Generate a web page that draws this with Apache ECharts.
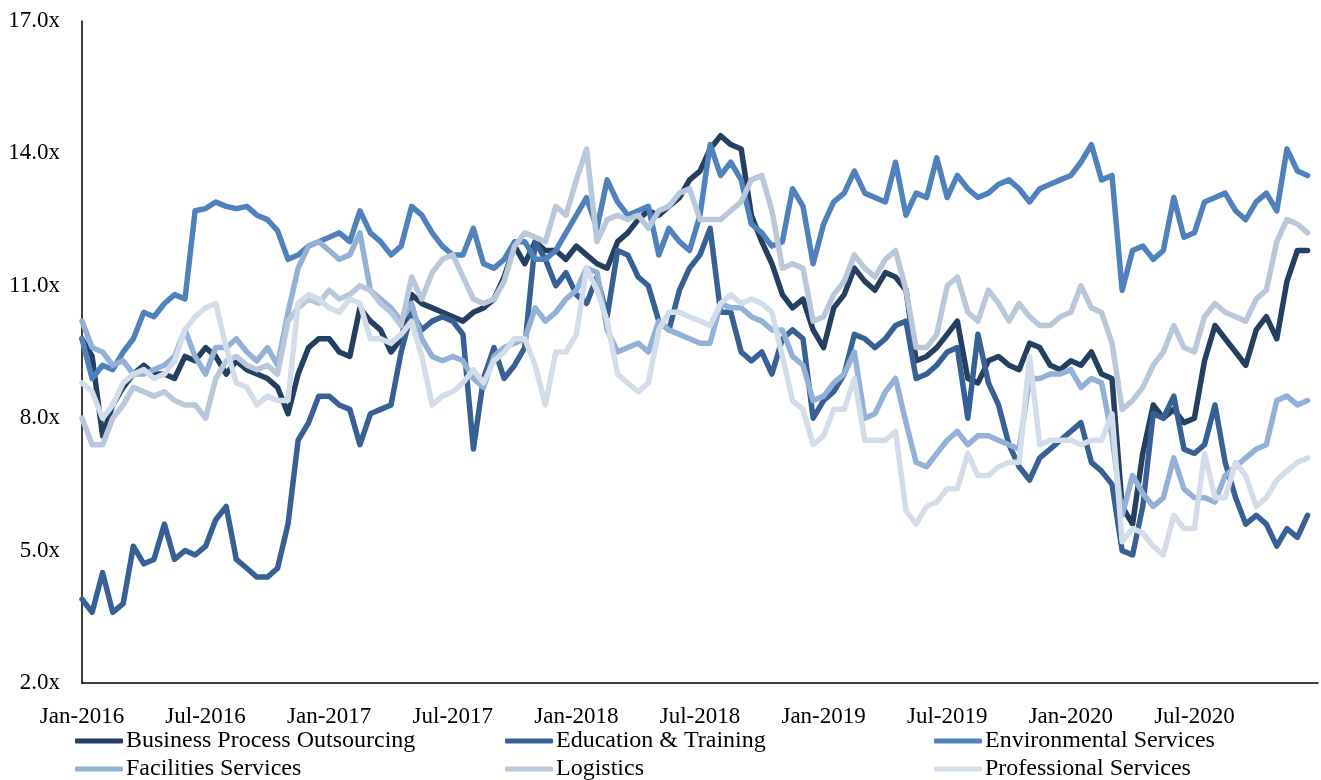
<!DOCTYPE html>
<html>
<head>
<meta charset="utf-8">
<script src="https://cdn.jsdelivr.net/npm/echarts@6/dist/echarts.min.js"></script>
<style>
  html, body { margin: 0; padding: 0; background: #fff; }
  #chart-container { width: 1321px; height: 780px; }
</style>
</head>
<body>
<div id="chart-container"></div>
<script>
// sample dates: 1st and 16th of every month, Jan-2016 .. Dec-2020
let dates = [];
for (let y = 2016; y <= 2020; y++) {
  for (let m = 1; m <= 12; m++) {
    let mm = m < 10 ? "0" + m : "" + m;
    dates.push(y + "-" + mm + "-01");
    dates.push(y + "-" + mm + "-16");
  }
}

const tickLabels = ["Jan-2016", "Jul-2016", "Jan-2017", "Jul-2017", "Jan-2018",
  "Jul-2018", "Jan-2019", "Jul-2019", "Jan-2020", "Jul-2020"];

const seriesNames = ["Business Process Outsourcing", "Education & Training",
  "Environmental Services", "Facilities Services", "Logistics", "Professional Services"];

const colors = ["#243f60", "#376195", "#4f81bd", "#93b1d6", "#b8c7d9", "#d2dde9"];

const bpo = [
  9.8, 9.4, 7.6, 8.3, 8.7, 9.0, 9.2, 9.0, 9.0, 8.9, 9.4, 9.3, 9.6, 9.4, 9.0, 9.3, 9.1, 9.0, 8.9, 8.7, 8.1, 9.0, 9.6, 9.8,
  9.8, 9.5, 9.4, 10.5, 10.2, 10.0, 9.5, 9.8, 10.8, 10.6, 10.5, 10.4, 10.3, 10.2, 10.4, 10.5, 10.7, 11.2, 11.9, 11.5, 12.0, 11.8, 11.8, 11.6,
  11.9, 11.7, 11.5, 11.4, 12.0, 12.2, 12.5, 12.7, 12.6, 12.8, 13.0, 13.4, 13.6, 14.1, 14.4, 14.2, 14.1, 12.6, 12.0, 11.5, 10.8, 10.5, 10.7, 10.0,
  9.6, 10.5, 10.8, 11.4, 11.1, 10.9, 11.3, 11.2, 10.9, 9.3, 9.4, 9.6, 9.9, 10.2, 8.9, 8.8, 9.3, 9.4, 9.2, 9.1, 9.7, 9.6, 9.2, 9.1,
  9.3, 9.2, 9.5, 9.0, 8.9, 6.0, 5.6, 7.2, 8.3, 8.0, 8.2, 7.9, 8.0, 9.3, 10.1, 9.8, 9.5, 9.2, 10.0, 10.3, 9.8, 11.1, 11.8, 11.8
];

const education = [
  3.9, 3.6, 4.5, 3.6, 3.8, 5.1, 4.7, 4.8, 5.6, 4.8, 5.0, 4.9, 5.1, 5.7, 6.0, 4.8, 4.6, 4.4, 4.4, 4.6, 5.6, 7.5, 7.9, 8.5,
  8.5, 8.3, 8.2, 7.4, 8.1, 8.2, 8.3, 9.5, 10.4, 10.0, 10.2, 10.3, 10.2, 9.9, 7.3, 8.9, 9.6, 8.9, 9.2, 9.6, 12.0, 11.6, 11.0, 11.3,
  10.8, 10.6, 11.2, 10.3, 11.8, 11.7, 11.2, 11.0, 10.2, 10.0, 10.9, 11.4, 11.7, 12.3, 10.4, 10.4, 9.5, 9.3, 9.5, 9.0, 9.8, 10.0, 9.8, 8.0,
  8.4, 8.6, 9.0, 9.9, 9.8, 9.6, 9.8, 10.1, 10.2, 8.9, 9.0, 9.2, 9.5, 9.6, 8.0, 9.9, 8.8, 8.3, 7.4, 6.9, 6.6, 7.1, 7.3, 7.5,
  7.7, 7.9, 7.0, 6.8, 6.5, 5.0, 4.9, 6.0, 8.1, 8.0, 8.5, 7.3, 7.2, 7.4, 8.3, 7.0, 6.2, 5.6, 5.8, 5.6, 5.1, 5.5, 5.3, 5.8
];

const environmental = [
  9.8, 8.9, 9.2, 9.1, 9.5, 9.8, 10.4, 10.3, 10.6, 10.8, 10.7, 12.7, 12.75, 12.9, 12.8, 12.75, 12.8, 12.6, 12.5, 12.25, 11.6, 11.7, 11.9, 12.0,
  12.1, 12.2, 12.0, 12.7, 12.2, 12.0, 11.7, 11.9, 12.8, 12.6, 12.2, 11.9, 11.7, 11.7, 12.3, 11.5, 11.4, 11.6, 12.0, 12.0, 11.6, 11.6, 11.8, 12.2,
  12.6, 13.0, 12.3, 13.4, 12.9, 12.6, 12.7, 12.8, 11.7, 12.3, 12.0, 11.8, 12.6, 14.2, 13.5, 13.8, 13.4, 12.4, 12.2, 11.9, 12.0, 13.2, 12.8, 11.5,
  12.4, 12.9, 13.1, 13.6, 13.1, 13.0, 12.9, 13.8, 12.6, 13.1, 13.0, 13.9, 13.0, 13.5, 13.2, 13.0, 13.1, 13.3, 13.4, 13.2, 12.9, 13.2, 13.3, 13.4,
  13.5, 13.8, 14.2, 13.4, 13.5, 10.9, 11.8, 11.9, 11.6, 11.8, 13.0, 12.1, 12.2, 12.9, 13.0, 13.1, 12.7, 12.5, 12.9, 13.1, 12.7, 14.1, 13.6, 13.5
];

const facilities = [
  10.2, 9.6, 9.5, 9.2, 9.3, 9.0, 9.0, 9.1, 9.2, 9.4, 10.0, 9.4, 9.0, 9.6, 9.6, 9.8, 9.5, 9.3, 9.6, 9.2, 10.4, 11.4, 11.9, 12.0,
  11.8, 11.6, 11.7, 12.2, 10.9, 10.7, 10.5, 10.2, 10.6, 9.8, 9.4, 9.3, 9.4, 9.3, 8.9, 8.7, 9.4, 9.6, 9.7, 9.8, 10.5, 10.2, 10.4, 10.7,
  10.9, 11.4, 11.3, 10.0, 9.5, 9.6, 9.7, 9.5, 10.2, 10.0, 9.9, 9.8, 9.7, 9.7, 10.6, 10.5, 10.5, 10.3, 10.2, 10.0, 10.0, 9.4, 9.2, 8.4,
  8.5, 8.8, 9.0, 9.5, 8.0, 8.1, 8.6, 8.9, 7.9, 7.0, 6.9, 7.2, 7.5, 7.7, 7.4, 7.6, 7.6, 7.5, 7.4, 7.3, 8.9, 8.9, 9.0, 9.0,
  9.1, 8.7, 8.9, 8.8, 7.6, 5.8, 6.7, 6.3, 6.0, 6.2, 7.1, 6.4, 6.2, 6.2, 6.1, 6.7, 6.9, 7.1, 7.3, 7.4, 8.4, 8.5, 8.3, 8.4
];

const logistics = [
  8.0, 7.4, 7.4, 8.0, 8.3, 8.7, 8.6, 8.5, 8.6, 8.4, 8.3, 8.3, 8.0, 8.9, 9.3, 9.4, 9.2, 9.1, 9.2, 9.0, 10.2, 10.5, 10.7, 10.6,
  10.9, 10.7, 10.8, 11.0, 10.9, 10.6, 10.4, 10.1, 11.2, 10.7, 11.3, 11.6, 11.7, 11.2, 10.7, 10.6, 10.7, 11.1, 11.9, 12.2, 12.1, 12.0, 12.8, 12.6,
  13.4, 14.1, 12.0, 12.5, 12.6, 12.5, 12.6, 12.3, 12.7, 12.8, 13.1, 13.2, 12.5, 12.5, 12.5, 12.7, 12.9, 13.4, 13.5, 12.7, 11.4, 11.5, 11.4, 10.2,
  10.3, 10.8, 11.1, 11.7, 11.4, 11.2, 11.6, 11.8, 10.9, 9.6, 9.6, 9.9, 11.0, 11.2, 10.4, 10.2, 10.9, 10.6, 10.2, 10.6, 10.3, 10.1, 10.1, 10.3,
  10.4, 11.0, 10.5, 10.4, 9.7, 8.2, 8.4, 8.7, 9.2, 9.5, 10.1, 9.6, 9.5, 10.3, 10.6, 10.4, 10.3, 10.2, 10.7, 10.9, 12.0, 12.5, 12.4, 12.2
];

const professional = [
  8.8, 8.6, 8.0, 8.3, 8.8, 9.0, 9.1, 8.9, 9.0, 9.3, 10.0, 10.3, 10.5, 10.6, 9.6, 8.8, 8.7, 8.3, 8.5, 8.4, 8.4, 10.6, 10.8, 10.7,
  10.5, 10.4, 10.7, 10.6, 9.8, 9.8, 9.7, 9.9, 10.2, 9.4, 8.3, 8.5, 8.6, 8.8, 9.1, 8.8, 9.3, 9.5, 9.8, 9.8, 9.2, 8.3, 9.5, 9.5,
  9.9, 11.4, 10.9, 10.2, 9.0, 8.8, 8.6, 8.8, 10.0, 10.4, 10.4, 10.3, 10.2, 10.1, 10.6, 10.8, 10.6, 10.7, 10.6, 10.4, 9.4, 8.4, 8.2, 7.4,
  7.6, 8.2, 8.2, 8.9, 7.5, 7.5, 7.5, 7.7, 5.9, 5.6, 6.0, 6.1, 6.4, 6.4, 7.2, 6.7, 6.7, 6.9, 7.0, 7.0, 9.4, 7.4, 7.5, 7.5,
  7.5, 7.4, 7.5, 7.5, 8.1, 5.2, 5.5, 5.4, 5.1, 4.9, 5.8, 5.5, 5.5, 7.2, 6.2, 6.2, 7.0, 6.7, 6.0, 6.2, 6.6, 6.8, 7.0, 7.1
];

const allValues = [bpo, education, environmental, facilities, logistics, professional];

// months since Jan-2016 for a date string
function monthIndex(d) {
  let p = d.split("-");
  return (+p[0] - 2016) * 12 + (+p[1] - 1) + (+p[2] - 1) / 30.5;
}

const font = "'Liberation Serif', 'Times New Roman', serif";

let dom = document.getElementById("chart-container");
let myChart = echarts.init(dom, null, { renderer: "canvas" });

let series = [];
for (let s = 0; s < seriesNames.length; s++) {
  let vals = allValues[s];
  let pts = [];
  for (let i = 0; i < dates.length; i++) {
    pts.push([monthIndex(dates[i]), vals[i]]);
  }
  series.push({
    name: seriesNames[s],
    type: "line",
    data: pts,
    showSymbol: false,
    symbol: "none",
    lineStyle: { width: 5.5, color: colors[s], cap: "round", join: "round" },
    itemStyle: { color: colors[s] },
  });
}

// legend: 3 columns x 2 rows
const legendLeft = [75, 505, 934];
const legendTop = [729, 757];
let legends = [];
for (let s = 0; s < seriesNames.length; s++) {
  legends.push({
    data: [seriesNames[s]],
    left: legendLeft[s % 3],
    top: legendTop[Math.floor(s / 3)],
    icon: "roundRect",
    itemWidth: 48,
    itemHeight: 5,
    padding: 0,
    textStyle: { fontFamily: font, fontSize: 24, color: "#000", padding: [0, 0, 0, -2] },
  });
}

let option = {
  animation: false,
  backgroundColor: "#fff",
  grid: { left: 82, right: 0, top: 21, bottom: 97 },
  legend: legends,
  xAxis: {
    type: "value",
    min: 0,
    max: 60,
    interval: 6,
    axisLine: { show: true, lineStyle: { color: "#000", width: 1.5 } },
    axisTick: { show: false },
    splitLine: { show: false },
    axisLabel: {
      margin: 22,
      fontFamily: font,
      fontSize: 23,
      color: "#000",
      formatter: function (v) {
        let idx = Math.round(v / 6);
        return tickLabels[idx] || "";
      },
    },
  },
  yAxis: {
    type: "value",
    min: 2,
    max: 17,
    interval: 3,
    axisLine: { show: true, lineStyle: { color: "#000", width: 1.5 } },
    axisTick: { show: false },
    splitLine: { show: false },
    axisLabel: {
      margin: 22,
      fontFamily: font,
      fontSize: 23,
      color: "#000",
      formatter: function (v) {
        return v.toFixed(1) + "x";
      },
    },
  },
  series: series,
};

myChart.setOption(option);
window.addEventListener("resize", myChart.resize);
</script>
</body>
</html>
